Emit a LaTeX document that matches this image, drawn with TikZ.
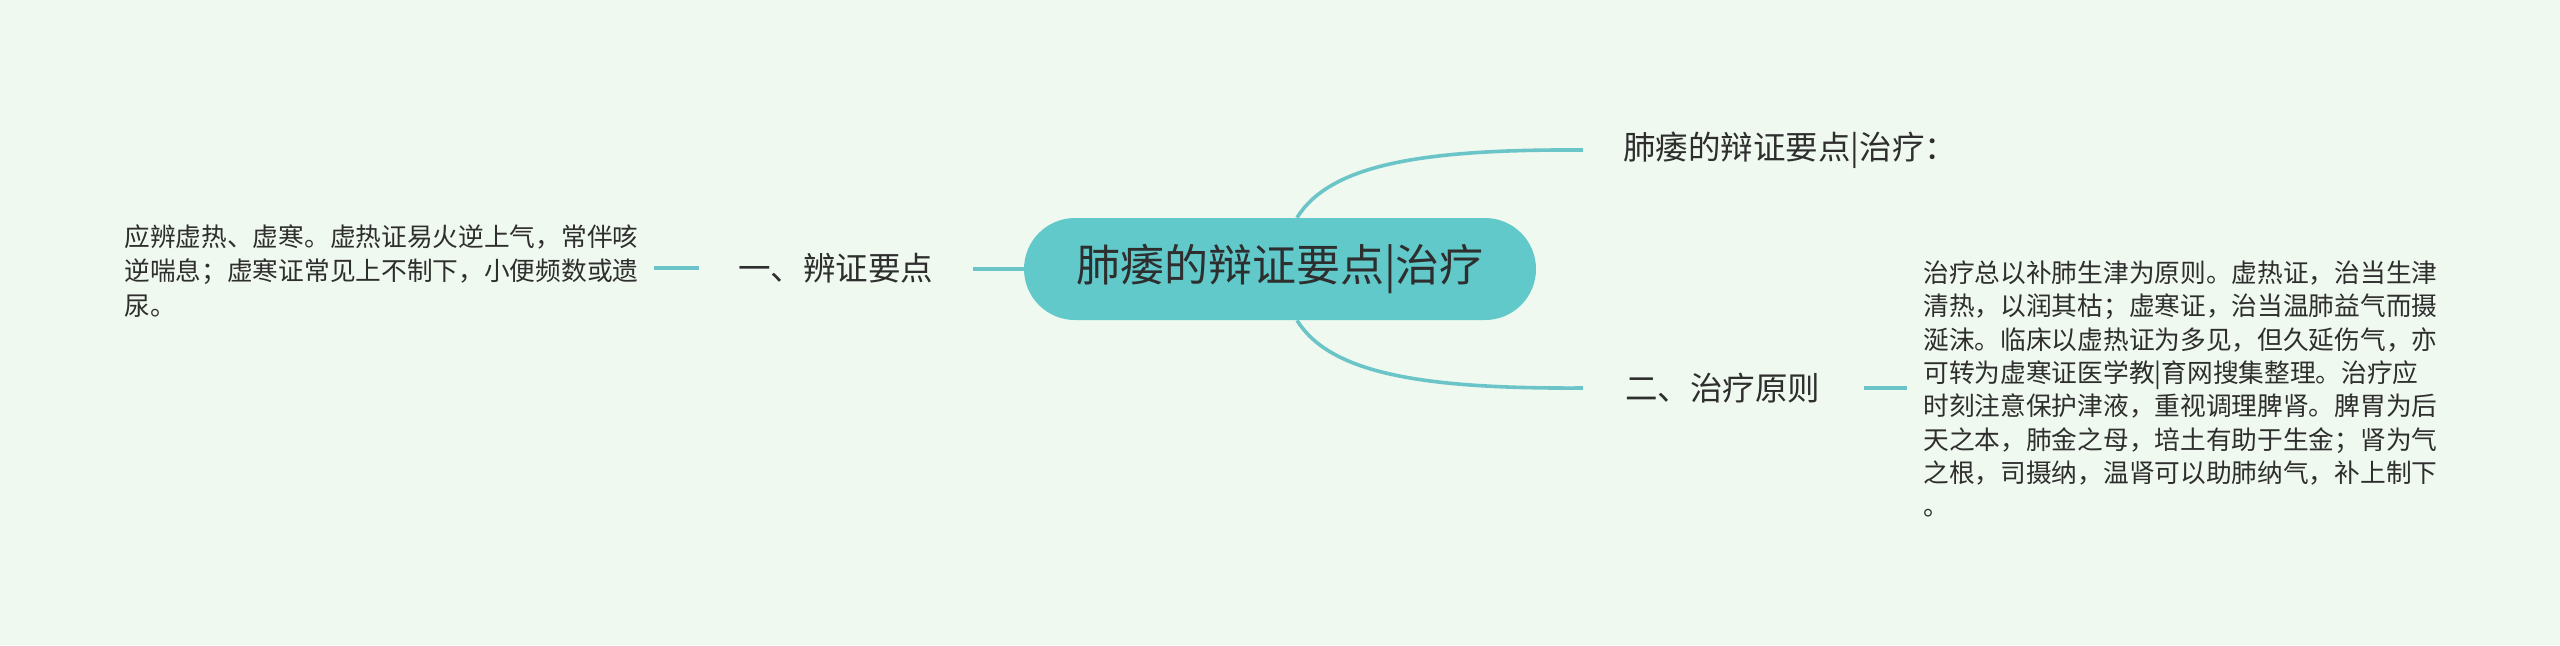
\documentclass[tikz,border=0pt]{standalone}
\usepackage{fontspec}
\setmainfont{Noto Sans CJK SC}
\definecolor{bgc}{HTML}{F0F9EF}
\definecolor{nodec}{HTML}{62C9CB}
\definecolor{linec}{HTML}{6BC5C8}
\definecolor{txt}{HTML}{2E2E2E}
\begin{document}
\begin{tikzpicture}[x=0.5pt,y=-0.5pt,
  conn/.style={draw=linec, line width=1.8pt},
  rootbox/.style={fill=nodec, rounded corners=25.5pt, minimum width=256pt, minimum height=51pt, inner sep=0, text=txt, font=\fontsize{22}{26}\selectfont},
  lbl/.style={font=\fontsize{16.25}{20}\selectfont, text=txt, inner sep=0},
  leafL/.style={font=\fontsize{12.85}{17.25}\selectfont, text=txt, inner sep=0, align=left},
  leafR/.style={font=\fontsize{12.85}{16.65}\selectfont, text=txt, inner sep=0, align=left}]
\fill[bgc] (0,0) rectangle (2560,645);
\useasboundingbox (0,0) rectangle (2560,645);

\node[rootbox] (c) at (1280,269) {肺痿的辩证要点|治疗};

\node[lbl, anchor=west] (a) at (738,268) {一、辨证要点};
\node[leafL, anchor=west] (al) at (124,271) {应辨虚热、虚寒。虚热证易火逆上气，常伴咳\\逆喘息；虚寒证常见上不制下，小便频数或遗\\尿。};

\node[lbl, anchor=west] (t) at (1623,150) {肺痿的辩证要点|治疗：};
\node[lbl, anchor=west] (b) at (1625,388) {二、治疗原则};
\node[leafR, anchor=west] (bl) at (1923,389) {治疗总以补肺生津为原则。虚热证，治当生津\\清热，以润其枯；虚寒证，治当温肺益气而摄\\涎沫。临床以虚热证为多见，但久延伤气，亦\\可转为虚寒证医学教|育网搜集整理。治疗应\\时刻注意保护津液，重视调理脾肾。脾胃为后\\天之本，肺金之母，培土有助于生金；肾为气\\之根，司摄纳，温肾可以助肺纳气，补上制下\\。};

\coordinate (aR) at ([xshift=19.5pt]a.east);
\coordinate (aL) at ([xshift=-19.5pt]a.west);
\coordinate (alE) at ([xshift=7.5pt]al.east);
\coordinate (bR) at ([xshift=21.5pt]b.east);
\coordinate (blW) at ([xshift=-8pt]bl.west);

\draw[conn] (c.west) -- (aR |- c.west);
\draw[conn] (aL) -- (alE |- aL);

\draw[conn] ([xshift=8.5pt]c.north) .. controls (1330,165) and (1420,149) .. ([xshift=-20pt]t.west);
\draw[conn] ([xshift=8.5pt]c.south) .. controls (1330,373) and (1420,389) .. ([xshift=-21pt]b.west);
\draw[conn] (bR) -- (blW |- bR);
\end{tikzpicture}
\end{document}
